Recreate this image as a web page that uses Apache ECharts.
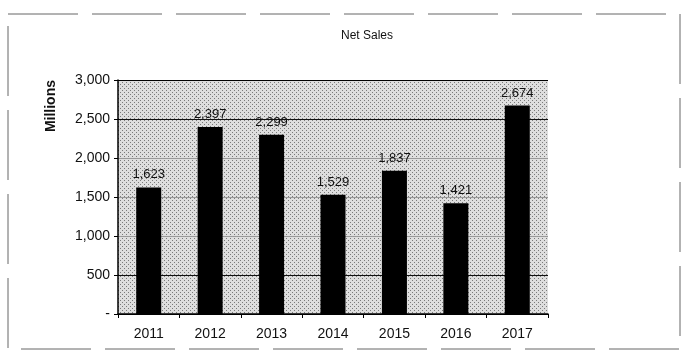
<!DOCTYPE html>
<html>
<head>
<meta charset="utf-8">
<script src="https://cdn.jsdelivr.net/npm/echarts@6/dist/echarts.min.js"></script>
<style>
  html, body { margin: 0; padding: 0; background: #fff; }
  #chart { width: 687px; height: 360px; }
</style>
</head>
<body>
<div id="chart"></div>
<script>
const years = ["2011", "2012", "2013", "2014", "2015", "2016", "2017"];
const netSales = [1623, 2397, 2299, 1529, 1837, 1421, 2674];
const yTicks = [0, 500, 1000, 1500, 2000, 2500, 3000];

const myChart = echarts.init(document.getElementById("chart"));

// dotted grey fill like the scanned plot area
const pat = document.createElement("canvas");
pat.width = 4;
pat.height = 4;
const pc = pat.getContext("2d");
pc.fillStyle = "#dedede";
pc.fillRect(0, 0, 4, 4);
pc.fillStyle = "#7a7a7a";
pc.fillRect(0, 0, 1, 1);
pc.fillRect(2, 2, 1, 1);

const fmt = (v) => v.toLocaleString("en-US");

myChart.setOption({
  animation: false,
  title: {
    text: "Net Sales",
    left: 362,
    top: 25,
    textAlign: "center",
    textStyle: {
      fontFamily: "Liberation Sans",
      fontSize: 12,
      fontWeight: "normal",
      color: "#111",
    },
  },
  graphic: [
    {
      type: "rect",
      shape: { x: 8, y: 14, width: 672, height: 335 },
      style: { fill: null, stroke: "#666", lineWidth: 1, lineDash: [70, 14] },
      silent: true,
    },
    {
      type: "rect",
      z: -1,
      shape: { x: 118, y: 80, width: 430, height: 234 },
      style: { fill: { image: pat, repeat: "repeat" } },
      silent: true,
    },
  ],
  grid: {
    left: 118,
    right: 139,
    top: 80,
    bottom: 46,
  },
  xAxis: {
    type: "category",
    data: years,
    axisLine: { lineStyle: { color: "#000", width: 1.5 } },
    axisTick: { show: true, length: 4, lineStyle: { color: "#000" } },
    axisLabel: {
      color: "#111",
      fontFamily: "Liberation Sans",
      fontSize: 14,
      margin: 13,
    },
  },
  yAxis: {
    type: "value",
    min: yTicks[0],
    max: yTicks[yTicks.length - 1],
    interval: 500,
    name: "Millions",
    nameLocation: "end",
    nameRotate: 90,
    nameGap: 0,
    nameTextStyle: {
      fontFamily: "Liberation Sans",
      fontSize: 14,
      fontWeight: "bold",
      color: "#111",
      align: "right",
      verticalAlign: "bottom",
      padding: [0, 0, 60, 0],
    },
    axisLine: { show: true, lineStyle: { color: "#000", width: 1.5 } },
    axisTick: { show: true, length: 4, lineStyle: { color: "#000" } },
    axisLabel: {
      color: "#111",
      fontFamily: "Liberation Sans",
      fontSize: 14,
      margin: 8,
      formatter: (v) => (v === 0 ? "-" : fmt(v)),
    },
    splitLine: {
      show: true,
      lineStyle: {
        color: ["#000", "#111", "#999", "#999", "#999", "#111", "#000"],
        width: 1,
      },
    },
  },
  series: [
    {
      name: "Net Sales",
      type: "bar",
      data: netSales,
      barWidth: 25,
      itemStyle: { color: "#000" },
      label: {
        show: true,
        position: "top",
        distance: 6,
        color: "#111",
        fontFamily: "Liberation Sans",
        fontSize: 13,
        formatter: (p) => fmt(p.value),
      },
    },
  ],
});
</script>
</body>
</html>
